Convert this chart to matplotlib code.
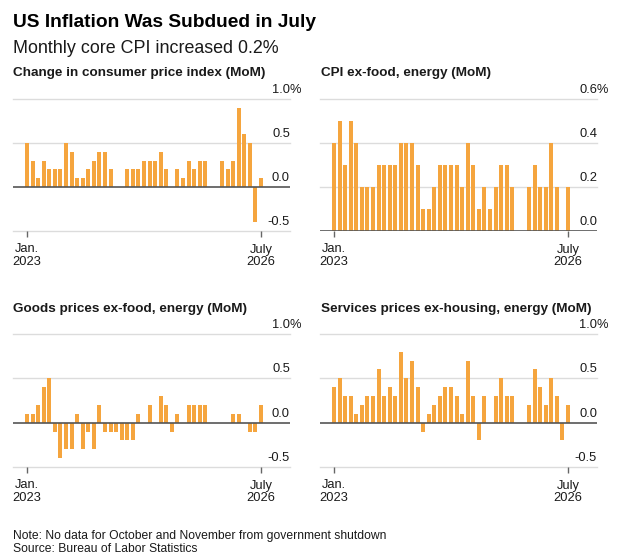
import numpy as np
import matplotlib
matplotlib.use("Agg")
import matplotlib.pyplot as plt

plt.rcParams['font.family'] = ['Liberation Sans', 'DejaVu Sans']

nan = np.nan
months = np.arange(43)  # Jan 2023 .. July 2026
tick_pos = [0, 42]
tick_labels = ['Jan.\n2023', 'July\n2026']

cpi = [0.5, 0.3, 0.1, 0.3, 0.2, 0.2, 0.2, 0.5, 0.4, 0.1, 0.1, 0.2, 0.3, 0.4, 0.4, 0.2,
       0.0, 0.0, 0.2, 0.2, 0.2, 0.3, 0.3, 0.3, 0.4, 0.2, 0.0, 0.2, 0.1, 0.3, 0.2, 0.3,
       0.3, nan, nan, 0.3, 0.2, 0.3, 0.9, 0.6, 0.5, -0.4, 0.1]
core = [0.4, 0.5, 0.3, 0.5, 0.4, 0.2, 0.2, 0.2, 0.3, 0.3, 0.3, 0.3, 0.4, 0.4, 0.4, 0.3,
        0.1, 0.1, 0.2, 0.3, 0.3, 0.3, 0.3, 0.2, 0.4, 0.3, 0.1, 0.2, 0.1, 0.2, 0.3, 0.3,
        0.2, nan, nan, 0.2, 0.3, 0.2, 0.2, 0.4, 0.2, 0.0, 0.2]
goods = [0.1, 0.1, 0.2, 0.4, 0.5, -0.1, -0.4, -0.3, -0.3, 0.1, -0.3, -0.1, -0.3, 0.2,
         -0.1, -0.1, -0.1, -0.2, -0.2, -0.2, 0.1, 0.0, 0.2, 0.0, 0.3, 0.2, -0.1, 0.1,
         0.0, 0.2, 0.2, 0.2, 0.2, nan, nan, 0.0, 0.0, 0.1, 0.1, 0.0, -0.1, -0.1, 0.2]
services = [0.4, 0.5, 0.3, 0.3, 0.1, 0.2, 0.3, 0.3, 0.6, 0.3, 0.4, 0.3, 0.8, 0.5, 0.7,
            0.4, -0.1, 0.1, 0.2, 0.3, 0.4, 0.4, 0.3, 0.1, 0.7, 0.3, -0.2, 0.3, 0.0, 0.3,
            0.5, 0.3, 0.3, nan, nan, 0.2, 0.6, 0.4, 0.2, 0.5, 0.3, -0.2, 0.2]

titles = ['Change in consumer price index (MoM)', 'CPI ex-food, energy (MoM)',
          'Goods prices ex-food, energy (MoM)', 'Services prices ex-housing, energy (MoM)']
series = [cpi, core, goods, services]
yticks = [[-0.5, 0.0, 0.5, 1.0], [0.0, 0.2, 0.4, 0.6],
          [-0.5, 0.0, 0.5, 1.0], [-0.5, 0.0, 0.5, 1.0]]

BAR = '#F5A53E'
GRID = '#dcdcdc'
ZERO = '#555555'
TXT = '#1a1a1a'

W, H = 624, 560
fig = plt.figure(figsize=(W / 100, H / 100), dpi=100)

# panel boxes in pixels: left, top (gridline top), bottom (gridline bottom)
lefts = [13, 320, 13, 320]
tops = [99, 99, 334, 334]
bottoms = [231, 231, 467, 467]
title_base = [76, 76, 312, 312]
title_x = [13, 321, 13, 321]
width_px = 277

for i in range(4):
    ax = fig.add_axes([lefts[i] / W, 1 - bottoms[i] / H, width_px / W,
                       (bottoms[i] - tops[i]) / H])
    ax.bar(months, series[i], width=0.72, color=BAR, zorder=2)
    ax.set_xlim(-2.51, 47.2)
    yt = yticks[i]
    ax.set_ylim(yt[0], yt[-1])
    for v in yt:
        if v == 0:
            ax.axhline(v, color=ZERO, lw=1.2, zorder=3)
        else:
            ax.axhline(v, color=GRID, lw=1.0, zorder=0, clip_on=False)
        lab = '%.1f' % v
        if v == yt[-1]:
            # top label carries the unit; number stays aligned with the others
            ax.annotate(lab + '%', xy=(1.0, v), xycoords=('axes fraction', 'data'),
                        xytext=(-12.9, 4.3), textcoords='offset points', ha='left',
                        va='baseline', fontsize=9.3, color=TXT, annotation_clip=False)
        else:
            ax.annotate(lab, xy=(1.0, v), xycoords=('axes fraction', 'data'),
                        xytext=(0, 4.3), textcoords='offset points', ha='right',
                        va='baseline', fontsize=9.3, color=TXT, annotation_clip=False)
    for s in ax.spines.values():
        s.set_visible(False)
    ax.set_yticks([])
    ax.set_xticks(tick_pos)
    ax.set_xticklabels(tick_labels, fontsize=9.3, color=TXT, linespacing=1.05)
    ax.tick_params(axis='x', length=4, width=1, color='#666666', pad=5)
    fig.text(title_x[i] / W, 1 - title_base[i] / H, titles[i], fontsize=9.7,
             fontweight='bold', color=TXT, va='baseline')

fig.text(13 / W, 1 - 27 / H, 'US Inflation Was Subdued in July', fontsize=13.8,
         fontweight='bold', color='black', va='baseline')
fig.text(13 / W, 1 - 53 / H, 'Monthly core CPI increased 0.2%', fontsize=12.9,
         color=TXT, va='baseline')
fig.text(13 / W, 1 - 539.3 / H,
         'Note: No data for October and November from government shutdown',
         fontsize=8.7, color=TXT, va='baseline')
fig.text(13 / W, 1 - 551.7 / H, 'Source: Bureau of Labor Statistics',
         fontsize=8.7, color=TXT, va='baseline')

fig.savefig('out.png', dpi=100)
